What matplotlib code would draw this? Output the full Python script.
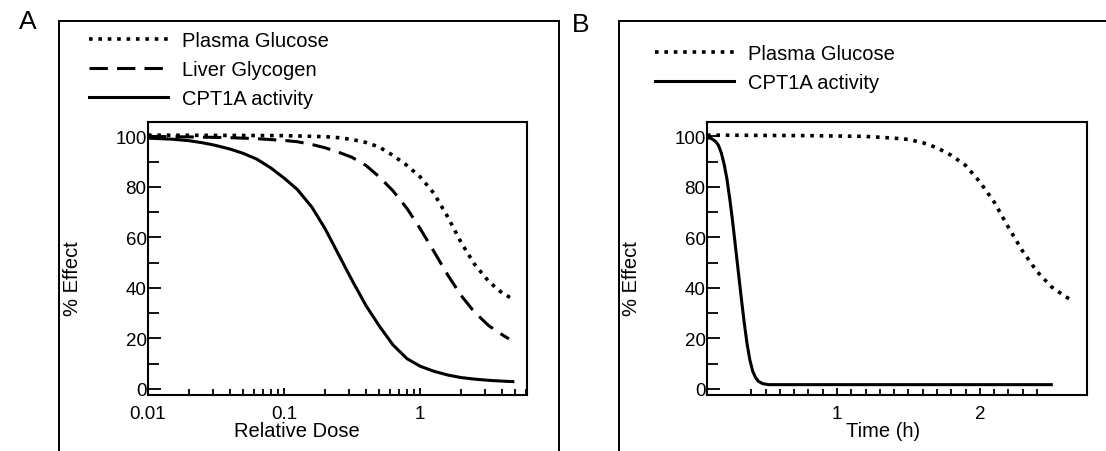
import numpy as np
import matplotlib.pyplot as plt
from matplotlib.patches import Rectangle
from matplotlib.ticker import FixedLocator, MultipleLocator, NullFormatter

plt.rcParams['font.family'] = ['Liberation Sans', 'DejaVu Sans']

# panel A: dose response (relative dose, log axis)
dose_cpt = [0.01, 0.015, 0.02, 0.025, 0.031, 0.04, 0.05, 0.063, 0.08, 0.1,
            0.125, 0.16, 0.2, 0.25, 0.316, 0.4, 0.5, 0.63, 0.8, 1.0,
            1.26, 1.6, 2.0, 2.5, 3.2, 4.0, 4.8]
cpt_a = [99.3, 98.9, 98.3, 97.5, 96.5, 95, 93.3, 91, 87.5, 83.5,
         79, 72, 63.5, 53.5, 43, 33, 25, 17.5, 12, 9,
         7, 5.5, 4.5, 3.9, 3.4, 3.1, 2.9]

dose_gly = [0.01, 0.02, 0.04, 0.063, 0.1, 0.125, 0.16, 0.2, 0.25, 0.316,
            0.4, 0.5, 0.63, 0.8, 1.0, 1.26, 1.6, 2.0, 2.5, 3.2,
            4.0, 4.5]
glycogen_a = [100, 99.8, 99.5, 99.1, 98.4, 97.9, 96.8, 95.5, 93.8, 91.7,
              88.5, 84, 78.5, 71.5, 63.5, 54.5, 45, 37, 30.5, 25,
              21.5, 19.8]

dose_glu = [0.01, 0.1, 0.2, 0.25, 0.316, 0.4, 0.5, 0.63, 0.8, 1.0,
            1.26, 1.6, 2.0, 2.5, 3.2, 4.0, 4.8]
glucose_a = [100.5, 100.3, 99.9, 99.5, 98.8, 97.6, 95.8, 92.5, 88.5, 84,
             77.5, 68, 58, 49.5, 42.5, 38, 35.6]

# panel B: time course (h)
time_cpt = [0.09, 0.12, 0.15, 0.17, 0.19, 0.21, 0.23, 0.25, 0.27, 0.29,
            0.31, 0.33, 0.35, 0.37, 0.39, 0.41, 0.43, 0.45, 0.48, 0.52,
            2.50]
cpt_b = [99.5, 99.2, 98, 96.5, 93.5, 89, 83, 75, 66, 56,
         46, 36, 26.5, 18, 11.5, 7, 4.5, 3, 2.1, 1.7,
         1.7]

time_glu = [0.09, 0.8, 1.2, 1.4, 1.5, 1.6, 1.7, 1.8, 1.9, 2.0,
            2.1, 2.2, 2.3, 2.4, 2.5, 2.6, 2.65]
glucose_b = [100.5, 100.3, 100, 99.3, 98.8, 97.5, 95.5, 92.5, 88.5, 82,
             74, 64, 54.5, 46.5, 40.5, 36.5, 35]

W, H = 1106, 452
fig = plt.figure(figsize=(W / 100, H / 100), dpi=100)

def fx(px):
    return px / W

def fy(py):
    return 1 - py / H

# outer panel boxes (bottom runs off the picture)
for x0, x1 in [(59, 559), (619, 1140)]:
    fig.add_artist(Rectangle((fx(x0), fy(480)), fx(x1) - fx(x0), fy(22) - fy(480),
                             transform=fig.transFigure, fill=False,
                             lw=1.4, ec='black', clip_on=False))

fig.text(fx(28), fy(22), 'A', fontsize=19, ha='center', va='center')
fig.text(fx(581), fy(25), 'B', fontsize=19, ha='center', va='center')

axA = fig.add_axes([fx(148), fy(396), fx(527) - fx(148), fy(123) - fy(396)])
axB = fig.add_axes([fx(707), fy(396), fx(1087) - fx(707), fy(123) - fy(396)])

dot = (0, (1.0, 1.6))
dash = (0, (6, 3))

axA.plot(dose_glu, glucose_a, color='black', lw=2.6, ls=dot, label='Plasma Glucose')
axA.plot(dose_gly, glycogen_a, color='black', lw=2.2, ls=dash, label='Liver Glycogen')
axA.plot(dose_cpt, cpt_a, color='black', lw=2.2, label='CPT1A activity')
axA.set_xscale('log')
axA.set_xlim(0.01, 6.1)
axA.xaxis.set_major_locator(FixedLocator([0.01, 0.1, 1]))
axA.set_xticklabels(['0.01', '0.1', '1'])
axA.xaxis.set_minor_formatter(NullFormatter())

axB.plot(time_glu, glucose_b, color='black', lw=2.6, ls=dot, label='Plasma Glucose')
axB.plot(time_cpt, cpt_b, color='black', lw=2.2, label='CPT1A activity')
axB.set_xlim(0.09, 2.75)
axB.set_xticks([1, 2])
axB.set_xticklabels(['1', '2'])
axB.set_xticks(np.arange(0.4, 2.45, 0.1), minor=True)

for ax in (axA, axB):
    ax.set_ylim(-2.4, 105.7)
    ax.yaxis.set_major_locator(MultipleLocator(20))
    ax.yaxis.set_minor_locator(MultipleLocator(10))
    ax.tick_params(axis='y', which='major', direction='in', length=9, width=1.3, pad=1,
                   labelsize=13.5)
    ax.tick_params(axis='y', which='minor', direction='in', length=8, width=1.3)
    ax.tick_params(axis='x', which='major', direction='in', length=5, width=1.3, pad=7,
                   labelsize=13.5)
    ax.tick_params(axis='x', which='minor', direction='in', length=4, width=1.3)
    for s in ax.spines.values():
        s.set_linewidth(1.5)
    ax.set_ylabel('% Effect', fontsize=14.5)
    ax.yaxis.set_label_coords(-0.174, 0.432)

axA.set_xlabel('Relative Dose', fontsize=14.5)
axA.xaxis.set_label_coords(0.393, -0.095)
axB.set_xlabel('Time (h)', fontsize=14.5)
axB.xaxis.set_label_coords(0.463, -0.095)

axA.legend(loc='upper left', bbox_to_anchor=(fx(89), fy(32)), bbox_transform=fig.transFigure,
           frameon=False, fontsize=14.5, handlelength=3.9, handletextpad=0.7,
           labelspacing=0.5, borderpad=0, borderaxespad=0)
axB.legend(loc='upper left', bbox_to_anchor=(fx(655), fy(45)), bbox_transform=fig.transFigure,
           frameon=False, fontsize=14.5, handlelength=3.9, handletextpad=0.7,
           labelspacing=0.5, borderpad=0, borderaxespad=0)

plt.savefig('out.png', dpi=100)
